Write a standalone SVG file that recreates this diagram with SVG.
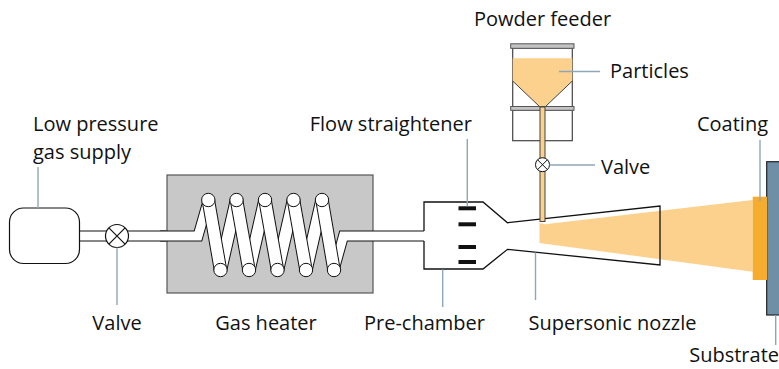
<svg xmlns="http://www.w3.org/2000/svg" width="779" height="369" viewBox="0 0 779 369">
  <style>
    text { font-family: "Open Sans", "Noto Sans", "Liberation Sans", sans-serif; font-size: 20px; fill: #111; }
    .lead { stroke: #8ea6b9; stroke-width: 1.4; fill: none; }
    .pipeOut { stroke: #111; stroke-width: 11; fill: none; stroke-linejoin: miter; }
    .pipeIn { stroke: #fff; stroke-width: 9; fill: none; stroke-linejoin: miter; }
    .coilOut { stroke: #111; stroke-width: 13.4; fill: none; }
    .coilIn { stroke: #fff; stroke-width: 11.4; fill: none; }
    .ring { fill: #fff; stroke: #111; stroke-width: 1; }
    .box { fill: #fff; stroke: #444; stroke-width: 1.2; }
    .bar { fill: #c4c4c4; stroke: #555; stroke-width: 1; }
    .powder { fill: #fcd08d; }
  </style>

  <!-- gas pipe from supply to heater -->
  <g id="gas-pipe">
    <path class="pipeOut" d="M79,236 H198 L208.3,200"/>
    <path class="pipeIn" d="M79,236 H198 L208.3,200"/>
  </g>

  <!-- low pressure gas supply tank -->
  <g id="gas-supply">
    <rect x="9.5" y="208" width="70" height="55.5" rx="14" fill="#fff" stroke="#111" stroke-width="1.2"/>
  </g>

  <!-- gas heater with coil -->
  <g id="gas-heater">
    <rect x="167" y="175" width="206" height="118" fill="#c8c8c8" stroke="#555" stroke-width="1.2"/>
    <!-- inlet and outlet of the coil -->
    <path class="pipeOut" d="M160,236 H198 L208.3,200"/>
    <path class="pipeIn" d="M160,236 H198 L208.3,200"/>
    <path class="pipeOut" d="M334,270 L343.5,236 H430"/>
    <path class="pipeIn" d="M334,270 L343.5,236 H430"/>
    <!-- rear turns -->
    <g>
      <path class="coilOut" d="M220.5,270 L236.5,200 M249,270 L265,200 M277.5,270 L293.5,200 M306,270 L322,200"/>
      <path class="coilIn" d="M220.5,270 L236.5,200 M249,270 L265,200 M277.5,270 L293.5,200 M306,270 L322,200"/>
    </g>
    <!-- front turns -->
    <g>
      <path class="coilOut" d="M208.3,200 L220.5,270"/>
      <path class="coilIn" d="M208.3,200 L220.5,270"/>
      <path class="coilOut" d="M236.5,200 L249,270"/>
      <path class="coilIn" d="M236.5,200 L249,270"/>
      <path class="coilOut" d="M265,200 L277.5,270"/>
      <path class="coilIn" d="M265,200 L277.5,270"/>
      <path class="coilOut" d="M293.5,200 L306,270"/>
      <path class="coilIn" d="M293.5,200 L306,270"/>
      <path class="coilOut" d="M322,200 L334,270"/>
      <path class="coilIn" d="M322,200 L334,270"/>
    </g>
    <circle class="ring" cx="208.3" cy="200" r="6.7"/>
    <circle class="ring" cx="236.5" cy="200" r="6.7"/>
    <circle class="ring" cx="265" cy="200" r="6.7"/>
    <circle class="ring" cx="293.5" cy="200" r="6.7"/>
    <circle class="ring" cx="322" cy="200" r="6.7"/>
    <circle class="ring" cx="220.5" cy="270" r="6.7"/>
    <circle class="ring" cx="249" cy="270" r="6.7"/>
    <circle class="ring" cx="277.5" cy="270" r="6.7"/>
    <circle class="ring" cx="306" cy="270" r="6.7"/>
    <circle class="ring" cx="334" cy="270" r="6.7"/>
  </g>

  <!-- gas valve -->
  <g id="gas-valve">
    <circle cx="117" cy="236" r="11.5" fill="#fff" stroke="#111" stroke-width="1.2"/>
    <path d="M108.9,227.9 L125.1,244.1 M125.1,227.9 L108.9,244.1" stroke="#111" stroke-width="1.2"/>
  </g>

  <!-- pre-chamber and supersonic nozzle -->
  <g id="nozzle">
    <path d="M424,231 V202 H483 L507.5,222.7 L660,206 V265 L507.5,249.3 L483,269 H424 V241" fill="#fff"/>
    <!-- particle jet -->
    <polygon class="powder" points="539.5,223 545,224.2 752.7,200 752.7,271.7 539.5,243"/>
    <path d="M424,231 V202 H483 L507.5,222.7 L660,206 V265 L507.5,249.3 L483,269 H424 V241" fill="none" stroke="#111" stroke-width="1.3" stroke-linejoin="miter"/>
  </g>

  <!-- flow straightener vanes -->
  <g id="flow-straightener" fill="#111">
    <rect x="458.5" y="206.3" width="17.5" height="4"/>
    <rect x="458.5" y="222.3" width="17.5" height="4"/>
    <rect x="458.5" y="245" width="17.5" height="4"/>
    <rect x="458.5" y="260" width="17.5" height="4"/>
  </g>

  <!-- powder feeder -->
  <g id="powder-feeder">
    <rect class="box" x="512.7" y="48" width="59.6" height="59"/>
    <polygon class="powder" points="512.7,58.3 572.3,58.3 572.3,81 545,107 540,107 512.7,81"/>
    <path d="M512.7,81 L540,107 M572.3,81 L545,107" stroke="#444" stroke-width="1"/>
    <rect class="box" x="512.7" y="110" width="59.6" height="30.7"/>
    <rect class="bar" x="510.7" y="43.8" width="63.3" height="4.5"/>
    <rect class="bar" x="510.7" y="106.5" width="63.3" height="3.8"/>
    <!-- feed line down to the nozzle -->
    <rect x="540" y="107" width="5" height="114.5" fill="#fcd08d" stroke="#444" stroke-width="1"/>
  </g>

  <!-- powder valve -->
  <g id="powder-valve">
    <circle cx="542.5" cy="164.7" r="7" fill="#fff" stroke="#111" stroke-width="1"/>
    <path d="M537.5,159.7 L547.5,169.7 M547.5,159.7 L537.5,169.7" stroke="#111" stroke-width="1"/>
  </g>

  <!-- substrate and coating -->
  <g id="substrate">
    <rect x="766.7" y="161.7" width="20" height="153.3" fill="#6f8fa6" stroke="#222" stroke-width="1.2"/>
  </g>
  <g id="coating">
    <rect x="752.7" y="196.7" width="14.3" height="83.3" fill="#f6ac2e"/>
  </g>

  <!-- leader lines -->
  <g id="connectors">
    <path class="lead" d="M38,167 V208"/>
    <path class="lead" d="M117,247.5 V305"/>
    <path class="lead" d="M467.3,139 V206.3"/>
    <path class="lead" d="M442.7,269.5 V307"/>
    <path class="lead" d="M535.5,252.5 V300"/>
    <path class="lead" d="M559,71.5 H600"/>
    <path class="lead" d="M549.5,165 H595"/>
    <path class="lead" d="M760,140 V201"/>
    <path class="lead" d="M775.7,315 V345"/>
  </g>

  <!-- labels -->
  <g id="labels">
    <text x="33" y="131">Low pressure</text>
    <text x="33" y="159">gas supply</text>
    <text x="117" y="330" text-anchor="middle">Valve</text>
    <text x="266" y="330" text-anchor="middle">Gas heater</text>
    <text x="424.5" y="330" text-anchor="middle">Pre-chamber</text>
    <text x="612.5" y="330" text-anchor="middle">Supersonic nozzle</text>
    <text x="779" y="362" text-anchor="end">Substrate</text>
    <text x="472" y="131" text-anchor="end">Flow straightener</text>
    <text x="732.5" y="131" text-anchor="middle">Coating</text>
    <text x="542.5" y="26" text-anchor="middle">Powder feeder</text>
    <text x="610" y="77.5">Particles</text>
    <text x="601" y="173.5">Valve</text>
  </g>
</svg>
